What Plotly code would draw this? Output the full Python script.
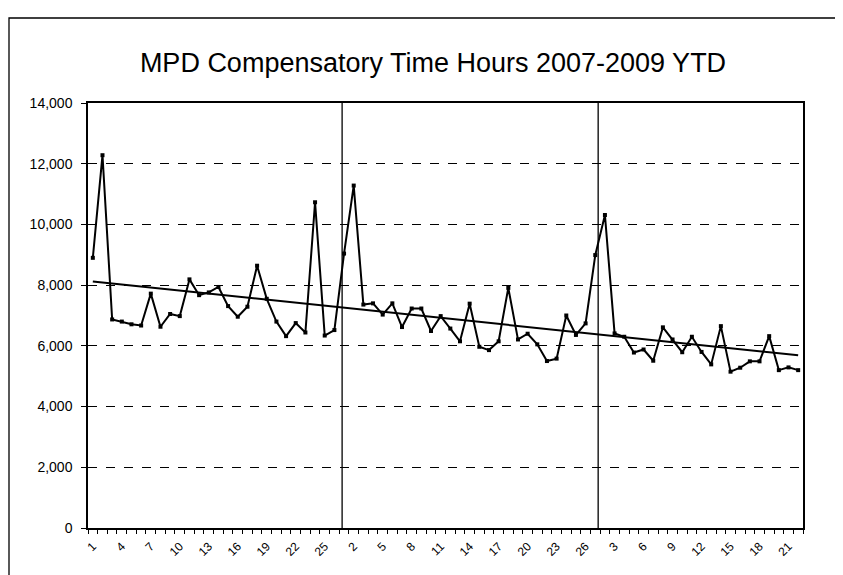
import numpy as np
import plotly.graph_objects as go

# Pay-period labels for each year
periods_2007 = [1, 2, 3, 4, 5, 6, 7, 8, 9, 10, 11, 12, 13, 14, 15, 16, 17, 18, 19, 20, 21, 22, 23, 24, 25, 26]
periods_2008 = [1, 2, 3, 4, 5, 6, 7, 8, 9, 10, 11, 12, 13, 14, 15, 16, 17, 18, 19, 20, 21, 22, 23, 24, 25, 26]
periods_2009 = [1, 2, 3, 4, 5, 6, 7, 8, 9, 10, 11, 12, 13, 14, 15, 16, 17, 18, 19, 20, 21, 22]

# Compensatory time hours per pay period
hours_2007 = [8900, 12280, 6870, 6800, 6710, 6670, 7720, 6630, 7050, 6980, 8190, 7670, 7760,
              7940, 7310, 6960, 7290, 8640, 7550, 6800, 6320, 6750, 6440, 10730, 6340, 6520]
hours_2008 = [9040, 11280, 7360, 7400, 7030, 7400, 6620, 7230, 7230, 6490, 6980, 6570, 6150,
              7390, 5970, 5860, 6150, 7910, 6210, 6400, 6050, 5500, 5580, 7000, 6360, 6740]
hours_2009 = [8990, 10310, 6410, 6300, 5780, 5880, 5510, 6610, 6210, 5790, 6300, 5800, 5390,
              6650, 5150, 5280, 5490, 5490, 6320, 5200, 5290, 5200]

y_ticks = [0, 2000, 4000, 6000, 8000, 10000, 12000, 14000]
title_text = "MPD Compensatory Time Hours 2007-2009 YTD"

labels = [str(p) for p in periods_2007 + periods_2008 + periods_2009]
values = np.array(hours_2007 + hours_2008 + hours_2009, dtype=float)
x = np.arange(len(values))

# Linear trend (least squares)
slope, intercept = np.polyfit(x, values, 1)
trend = slope * x + intercept

W, H = 843, 575
OFF = 8  # page body margin
# desired screen-pixel plot box
SL, SR, ST, SB = 88, 803, 103, 528
L, T = SL - OFF, ST - OFF
R = W - (SR - OFF)
B = H - (SB - OFF)

def px_x(sx):
    return (sx - SL) / (SR - SL)

def px_y(sy):
    return (SB - sy) / (SB - ST)

fig = go.Figure()
fig.add_trace(go.Scatter(
    x=x, y=values, mode="lines+markers",
    line=dict(color="black", width=2),
    marker=dict(symbol="square", size=4, color="black"),
    showlegend=False, hoverinfo="y"))
fig.add_trace(go.Scatter(
    x=x, y=trend, mode="lines",
    line=dict(color="black", width=2),
    showlegend=False, hoverinfo="skip"))

# Year separators
year_starts = [len(periods_2007), len(periods_2007) + len(periods_2008)]
for xs, off in zip(year_starts, [-0.2, 0.3]):
    fig.add_shape(type="line", xref="x", yref="y", x0=xs + off, x1=xs + off,
                  y0=0, y1=14000, line=dict(color="black", width=1.3))

# Outer frame
fig.add_shape(type="rect", xref="paper", yref="paper",
              x0=px_x(9), x1=px_x(836), y0=px_y(600), y1=px_y(18),
              line=dict(color="black", width=1.3), layer="below")

tickvals = list(range(0, len(values), 3))
fig.update_layout(
    width=W, height=H,
    margin=dict(l=L, r=R, t=T, b=B, autoexpand=False),
    paper_bgcolor="white", plot_bgcolor="white",
    font=dict(family="Liberation Sans, Arial, sans-serif", color="black"),
    title=dict(text=title_text, x=(433 - OFF) / W, xanchor="center",
               y=1 - (63 - OFF) / H, yanchor="middle",
               font=dict(size=27, color="black")),
    xaxis=dict(
        range=[-0.5, len(values) - 0.5],
        tickmode="array", tickvals=tickvals,
        ticktext=[labels[i] for i in tickvals],
        ticks="", tickangle=-45, tickfont=dict(size=12),
        ticklabelstandoff=5,
        showgrid=False, zeroline=False,
        showline=True, linecolor="black", linewidth=1.5, mirror=True,
        minor=dict(tickmode="linear", tick0=-0.5, dtick=1, ticks="outside",
                   ticklen=4, tickcolor="black", tickwidth=1, showgrid=False),
    ),
    yaxis=dict(
        range=[0, 14000], tickvals=y_ticks, tickformat=",d",
        ticks="outside", ticklen=5, tickcolor="black", tickwidth=1,
        tickfont=dict(size=14), ticklabelstandoff=6,
        showgrid=True, gridcolor="black", gridwidth=1, griddash="dash",
        zeroline=False,
        showline=True, linecolor="black", linewidth=1.5, mirror=True,
    ),
)

fig.write_html("out.html")
